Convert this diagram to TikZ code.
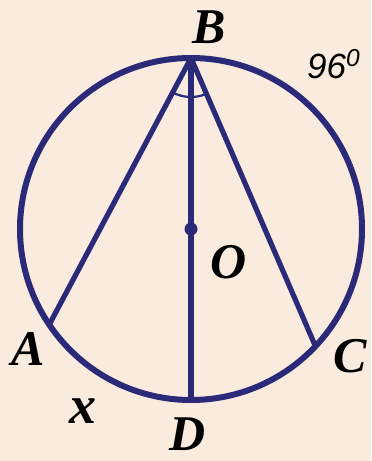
\documentclass[tikz,border=0pt]{standalone}
\usepackage{fontspec}
\setmainfont{Liberation Serif}
\newfontfamily\degfont{Liberation Sans}
\usetikzlibrary{angles}
\definecolor{paper}{RGB}{249,236,223}
\definecolor{ink}{RGB}{42,42,120}

\begin{document}
\begin{tikzpicture}[x=0.5pt, y=0.5pt,
    rim/.style={draw=ink, line width=3pt},
    chord/.style={draw=ink, line width=2.6pt},
    anglemark/.style={draw=ink, line width=1.1pt, angle radius=19.5pt},
    ptlabel/.style={font=\fontsize{25}{30}\selectfont\bfseries\itshape, text=black, inner sep=0pt},
    arclabel/.style={font=\degfont\fontsize{17.5}{21}\selectfont\itshape, text=black, inner sep=0pt},
]
% Background
\fill[paper] (0,0) rectangle (371,461);
\useasboundingbox (0,0) rectangle (371,461);

% Points on the circle
\coordinate (O) at (191,232);
\coordinate (B) at (191,403);
\coordinate (D) at (191,61);
\coordinate (A) at ([shift={(191,232)}]214:171);
\coordinate (C) at ([shift={(191,232)}]316.7:171);

% Circle
\draw[rim] (O) circle[radius=171];

% Chords and diameter
\draw[chord] (B) -- (A);
\draw[chord] (B) -- (C);
\draw[chord] (B) -- (D);

% Angle at B
\pic[anglemark] {angle = A--B--C};

% Centre
\fill[ink] (O) circle[radius=6.5];

% Labels
\node[ptlabel] (labB) at (209,434) {B};
\node[ptlabel] (labO) at (229,199) {O};
\node[ptlabel] (labA) at (28,112) {A};
\node[ptlabel] (labC) at (350,105) {C};
\node[ptlabel] (labD) at (188,27) {D};
\node[ptlabel, font=\fontsize{27}{30}\selectfont\bfseries\itshape] (labx) at (83,50) {x};
\node[arclabel] (arcBC) at (334,397) {96\textsuperscript{0}};
\end{tikzpicture}
\end{document}
